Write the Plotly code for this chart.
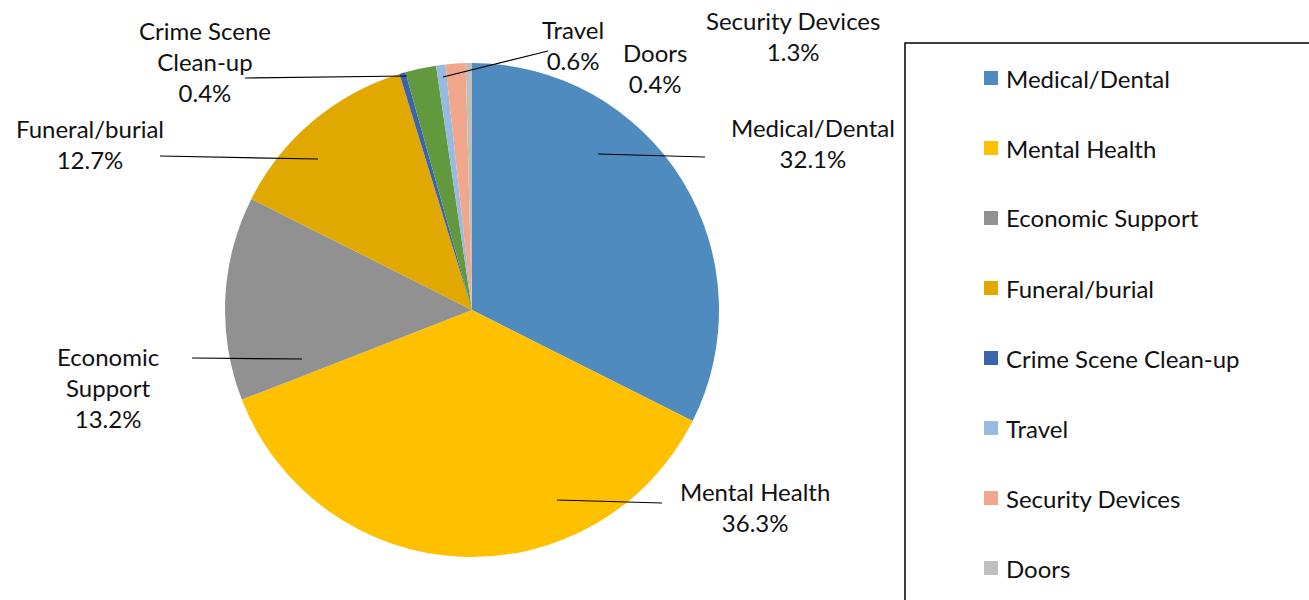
import plotly.graph_objects as go

# ---- data ----
categories = ["Medical/Dental", "Mental Health", "Economic Support", "Funeral/burial",
              "Crime Scene Clean-up", "Other", "Travel", "Security Devices", "Doors"]
values = [32.1, 36.3, 13.2, 12.7, 0.4, 2.0, 0.6, 1.3, 0.4]
colors = ["#4F8BBF", "#FFC000", "#919191", "#E0A800", "#3B64AD",
          "#62993E", "#98B9E0", "#F0A78B", "#BFBFBF"]
# label text (line breaks as shown); None = unlabeled slice
label_names = ["Medical/Dental", "Mental Health", "Economic<br>Support", "Funeral/burial",
               "Crime Scene<br>Clean-up", None, "Travel", "Security Devices", "Doors"]
legend_names = ["Medical/Dental", "Mental Health", "Economic Support", "Funeral/burial",
                "Crime Scene Clean-up", "Travel", "Security Devices", "Doors"]

W, H = 1309, 600
FONT = "Lato"


def X(px):
    return px / W


def Y(py):
    return 1 - py / H


cx, cy, r = 472, 310, 247

fig = go.Figure()
fig.add_trace(go.Pie(
    labels=categories, values=values, sort=False, direction="clockwise", rotation=0,
    marker=dict(colors=colors, line=dict(width=0)),
    textinfo="none", showlegend=False, hoverinfo="label+percent",
    domain=dict(x=[X(cx - r), X(cx + r)], y=[Y(cy + r), Y(cy - r)]),
))

# label placement (layout only): text centre and optional leader line
label_pos = {
    "Medical/Dental": ((813, 143), ((598, 154), (705, 157))),
    "Mental Health": ((755, 507), ((557, 500), (662, 503))),
    "Economic Support": ((108, 388), ((192, 358), (302, 359))),
    "Funeral/burial": ((90, 144), ((160, 156), (318, 159))),
    "Crime Scene Clean-up": ((205, 61), ((245, 78), (407, 76))),
    "Travel": ((573, 45), ((548, 51), (443, 77))),
    "Doors": ((655, 68), None),
    "Security Devices": ((793, 36), None),
}

annotations = []
shapes = []
for cat, val, lab in zip(categories, values, label_names):
    if lab is None:
        continue
    (tx, ty), line = label_pos[cat]
    annotations.append(dict(
        x=X(tx), y=Y(ty), xref="paper", yref="paper", showarrow=False,
        text=f"{lab}<br>{val:.1f}%", align="center",
        xanchor="center", yanchor="middle",
        font=dict(family=FONT, size=24, color="#111111"),
    ))
    if line:
        (x0, y0), (x1, y1) = line
        shapes.append(dict(type="line", xref="paper", yref="paper",
                           x0=X(x0), y0=Y(y0), x1=X(x1), y1=Y(y1),
                           line=dict(color="black", width=1.2)))

# manual legend (box extends past the page edge like the reference)
shapes.append(dict(type="rect", xref="paper", yref="paper",
                   x0=X(905), y0=Y(43), x1=X(1330), y1=Y(640),
                   line=dict(color="black", width=1.5), fillcolor="rgba(0,0,0,0)"))
color_of = dict(zip(categories, colors))
for i, name in enumerate(legend_names):
    yc = 78 + 70 * i
    shapes.append(dict(type="rect", xref="paper", yref="paper",
                       x0=X(984), x1=X(998), y0=Y(yc + 7), y1=Y(yc - 7),
                       line=dict(width=0), fillcolor=color_of[name]))
    annotations.append(dict(
        x=X(1004), y=Y(yc), xref="paper", yref="paper", showarrow=False,
        text=name, xanchor="left", yanchor="middle",
        font=dict(family=FONT, size=24, color="#111111"),
    ))

fig.update_layout(
    width=W, height=H, margin=dict(l=0, r=0, t=0, b=0),
    paper_bgcolor="white", plot_bgcolor="white",
    annotations=annotations, shapes=shapes,
)

fig.write_html("out.html", config={"displayModeBar": False},
               post_script="document.body.style.margin='0';document.body.style.overflow='hidden';")
